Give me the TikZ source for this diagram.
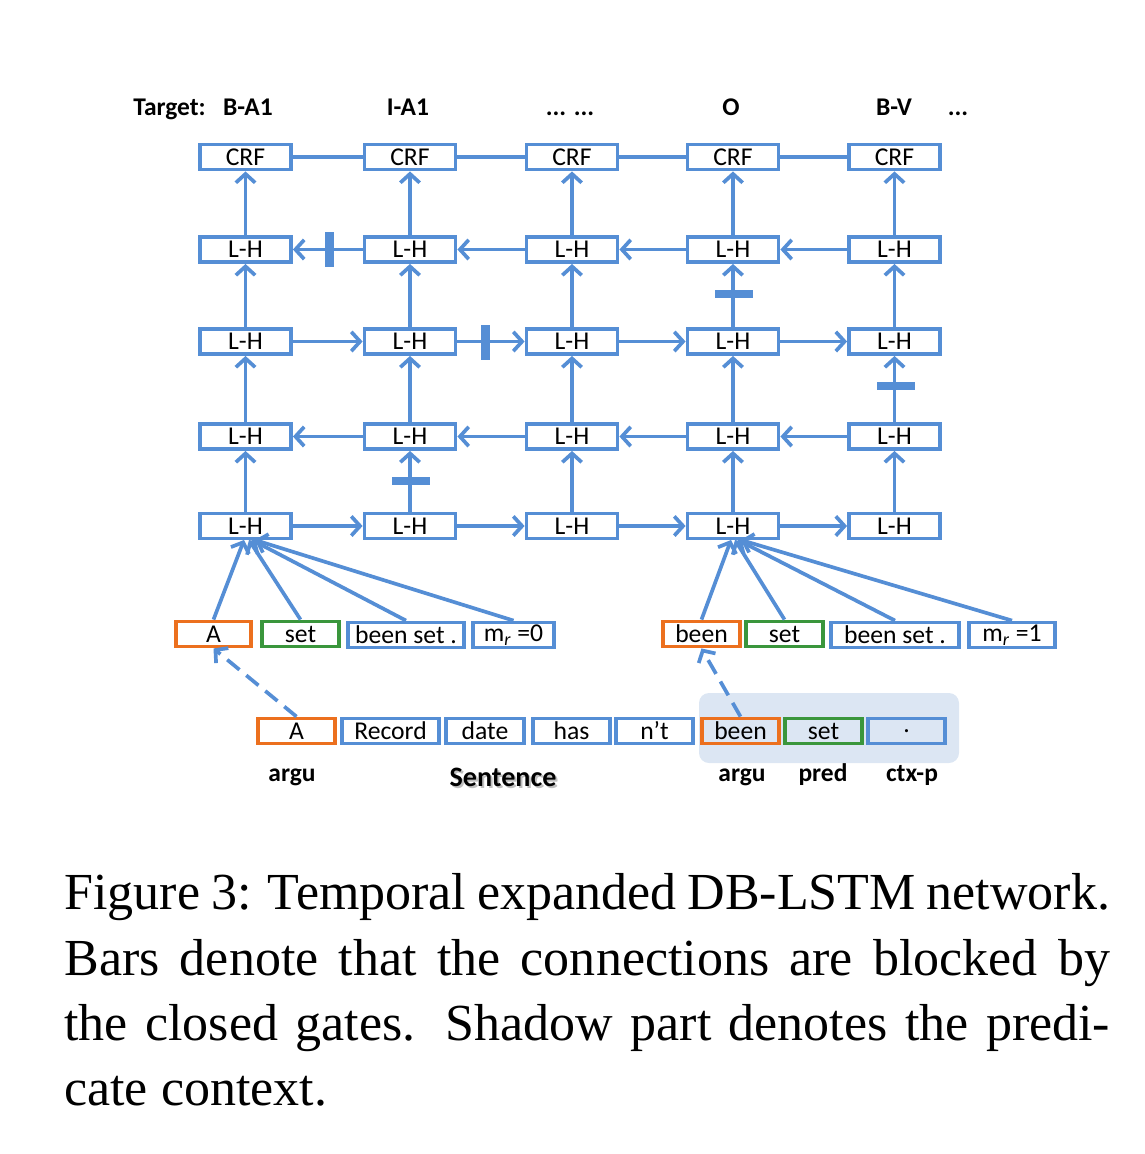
\documentclass[tikz,border=0pt]{standalone}
\usepackage{fontspec}
\setmainfont{Liberation Serif}
\newfontfamily\carl{Carlito}
\usetikzlibrary{arrows.meta}
\definecolor{bl}{RGB}{85,142,213}
\definecolor{org}{RGB}{236,112,30}
\definecolor{grn}{RGB}{58,150,60}
\definecolor{ctxblue}{RGB}{220,230,243}
\begin{document}
\begin{tikzpicture}[x=0.02cm,y=-0.02cm,
  box/.style={draw=bl,line width=2.2pt,minimum width=1.82cm,minimum height=0.5cm,inner sep=0pt,font=\carl\fontsize{14.6}{16}\selectfont},
  ibox/.style={box,minimum width=#1},
  ln/.style={draw=bl,line width=2.1pt},
  arr/.style={ln,-{Straight Barb[length=5pt,width=11pt]}},
  darr/.style={arr,dash pattern=on 9pt off 5pt},
  bar/.style={fill=bl,inner sep=0pt,draw=none},
  vbar/.style={bar,minimum width=0.18cm,minimum height=0.7cm},
  hbar/.style={bar,minimum width=0.76cm,minimum height=0.17cm},
  lbl/.style={anchor=base,inner sep=0pt,font=\carl\bfseries\fontsize{14.5}{16}\selectfont},
  captxt/.style={anchor=base west,inner sep=0pt,font=\fontsize{29.6}{37}\selectfont}]
\useasboundingbox (0,0) rectangle (1144,1154);

% target labels
\node[lbl] (tg) at (169.5,115) {Target:};
\node[lbl] (t1) at (248,115) {B-A1};
\node[lbl] (t2) at (408,115) {I-A1};
\node[lbl] (t3) at (570,115) {... ...};
\node[lbl] (t4) at (731,115) {O};
\node[lbl] (t5) at (894,115) {B-V};
\node[lbl] (t6) at (958,115) {...};

% grid
\foreach \i/\x in {1/245.5,2/410,3/572,4/733,5/894.5}{
  \node[box] (c\i) at (\x,157) {CRF};
  \node[box] (a\i) at (\x,249.5) {L-H};
  \node[box] (b\i) at (\x,341.5) {L-H};
  \node[box] (d\i) at (\x,436.5) {L-H};
  \node[box] (e\i) at (\x,526) {L-H};
  \draw[arr] (a\i) -- (c\i);
  \draw[arr] (b\i) -- (a\i);
  \draw[arr] (d\i) -- (b\i);
  \draw[arr] (e\i) -- (d\i);
}
\foreach \i/\j in {1/2,2/3,3/4,4/5}{
  \draw[ln] (c\i) -- (c\j);
  \draw[arr] (a\j) -- (a\i);
  \draw[arr] (b\i) -- (b\j);
  \draw[arr] (d\j) -- (d\i);
  \draw[arr] (e\i) -- (e\j);
}

% closed gates
\node[vbar] (g1) at (329.5,249.5) {};
\node[vbar] (g2) at (485.5,342) {};
\node[hbar] (g3) at (411,481) {};
\node[hbar] (g4) at (734,294) {};
\node[hbar] (g5) at (896,386) {};

% shadow of predicate context
\fill[ctxblue,rounded corners=0.2cm] (699,693) rectangle (959,763);

% input vectors
\node[ibox=1.5cm,draw=org] (iA) at (213.5,634) {A};
\node[ibox=1.54cm,draw=grn] (iS) at (300.5,634) {set};
\node[ibox=2.32cm] (iB) at (406,635) {been set .};
\node[ibox=1.62cm] (iM) at (513.5,635) {m\textsubscript{\textit{r}} =0};

\node[ibox=1.54cm,draw=org] (jA) at (701.5,634) {been};
\node[ibox=1.54cm,draw=grn] (jS) at (784.5,634) {set};
\node[ibox=2.56cm] (jB) at (895,635) {been set .};
\node[ibox=1.72cm] (jM) at (1012,635) {m\textsubscript{\textit{r}} =1};

\coordinate (p1) at (244,540);
\coordinate (p2) at (249,540);
\coordinate (p3) at (252,540);
\coordinate (p4) at (255,540);
\coordinate (q1) at (731,540);
\coordinate (q2) at (735,540);
\coordinate (q3) at (738,540);
\coordinate (q4) at (741,540);
\draw[arr] (iA.north) -- (p1);
\draw[arr] (iS.north) -- (p2);
\draw[arr] (iB.north) -- (p3);
\draw[arr] (iM.north) -- (p4);
\draw[arr] (jA.north) -- (q1);
\draw[arr] (jS.north) -- (q2);
\draw[arr] (jB.north) -- (q3);
\draw[arr] (jM.north) -- (q4);

% sentence
\node[ibox=1.54cm,draw=org] (s1) at (296.5,731) {A};
\node[ibox=1.94cm] (s2) at (390.5,731) {Record};
\node[ibox=1.56cm] (s3) at (485,731) {date};
\node[ibox=1.54cm] (s4) at (571.5,731) {has};
\node[ibox=1.54cm] (s5) at (654.5,731) {n’t};
\node[ibox=1.54cm,draw=org] (s6) at (740.5,731) {been};
\node[ibox=1.54cm,draw=grn] (s7) at (823.5,731) {set};
\node[ibox=1.54cm] (s8) at (906.5,731) {.};

\draw[darr] (s1.north) -- (iA.south);
\draw[darr] (s6.north) -- (jA.south);

% bottom labels
\node[lbl] (l1) at (292,781) {argu};
\node[lbl,font=\carl\bfseries\fontsize{16}{18}\selectfont,text=black!25] (l2s) at (505,788) {Sentence};
\node[lbl,font=\carl\bfseries\fontsize{16}{18}\selectfont] (l2) at (503,786) {Sentence};
\node[lbl] (l3) at (742,781) {argu};
\node[lbl] (l4) at (823,781) {pred};
\node[lbl] (l5) at (912,781) {ctx-p};

% caption
\node[captxt] (k1) at (64,909) {\makebox[20.92cm][s]{Figure 3: Temporal expanded DB-LSTM network.}};
\node[captxt] (k2) at (64,975) {\makebox[20.92cm][s]{Bars denote that the connections are blocked by}};
\node[captxt] (k3) at (64,1040) {\makebox[20.92cm][s]{the closed gates.  Shadow part denotes the predi-}};
\node[captxt] (k4) at (64,1105) {cate context.};
\end{tikzpicture}
\end{document}
